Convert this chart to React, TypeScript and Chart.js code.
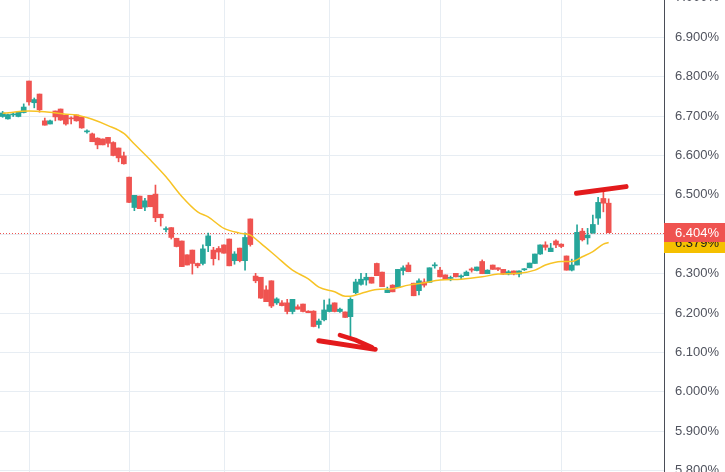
import { useEffect, useRef } from 'react';
import { Chart, registerables } from 'chart.js';

Chart.register(...registerables);

// ---- data ----
const SLOTS = 126; // 116 candles + empty space on the right
const slotLabels: string[] = Array.from({ length: SLOTS }, (_, i) => String(i));

const opens = [
  6.699, 6.693, 6.703, 6.699, 6.709, 6.789, 6.734, 6.756, 6.688, 6.680,
  6.713, 6.718, 6.702, 6.695, 6.703, 6.698, 6.660, 6.655, 6.644, 6.642,
  6.646, 6.633, 6.619, 6.599, 6.545, 6.468, 6.497, 6.469, 6.499, 6.502,
  6.451, 6.412, 6.417, 6.390, 6.383, 6.348, 6.360, 6.326, 6.326, 6.371,
  6.360, 6.364, 6.373, 6.388, 6.333, 6.365, 6.333, 6.439, 6.294, 6.291,
  6.259, 6.282, 6.226, 6.226, 6.226, 6.204, 6.216, 6.223, 6.205, 6.205,
  6.171, 6.183, 6.204, 6.226, 6.204, 6.203, 6.191, 6.252, 6.273, 6.284,
  6.291, 6.326, 6.304, 6.252, 6.271, 6.265, 6.308, 6.322, 6.276, 6.257,
  6.279, 6.278, 6.320, 6.309, 6.297, 6.288, 6.301, 6.292, 6.295, 6.312,
  6.308, 6.331, 6.300, 6.322, 6.315, 6.311, 6.299, 6.307, 6.299, 6.310,
  6.315, 6.326, 6.350, 6.373, 6.356, 6.383, 6.375, 6.345, 6.309, 6.322,
  6.408, 6.391, 6.403, 6.441, 6.491, 6.479,
];
const highs = [
  6.712, 6.705, 6.708, 6.711, 6.731, 6.789, 6.746, 6.756, 6.695, 6.690,
  6.713, 6.718, 6.702, 6.698, 6.703, 6.698, 6.665, 6.657, 6.645, 6.642,
  6.646, 6.635, 6.619, 6.609, 6.545, 6.499, 6.497, 6.491, 6.499, 6.525,
  6.451, 6.419, 6.417, 6.390, 6.383, 6.348, 6.360, 6.327, 6.373, 6.403,
  6.367, 6.369, 6.373, 6.388, 6.356, 6.365, 6.404, 6.439, 6.301, 6.291,
  6.269, 6.282, 6.239, 6.232, 6.235, 6.235, 6.221, 6.223, 6.206, 6.206,
  6.185, 6.233, 6.236, 6.226, 6.213, 6.203, 6.239, 6.286, 6.301, 6.301,
  6.291, 6.327, 6.304, 6.266, 6.272, 6.311, 6.320, 6.328, 6.276, 6.287,
  6.287, 6.315, 6.328, 6.316, 6.297, 6.294, 6.301, 6.297, 6.307, 6.315,
  6.317, 6.335, 6.310, 6.322, 6.315, 6.311, 6.308, 6.307, 6.307, 6.313,
  6.327, 6.350, 6.373, 6.381, 6.377, 6.386, 6.376, 6.345, 6.337, 6.424,
  6.415, 6.415, 6.449, 6.494, 6.507, 6.490,
];
const lows = [
  6.697, 6.692, 6.699, 6.698, 6.708, 6.728, 6.721, 6.710, 6.677, 6.680,
  6.688, 6.689, 6.677, 6.680, 6.687, 6.669, 6.657, 6.635, 6.617, 6.627,
  6.622, 6.599, 6.584, 6.578, 6.480, 6.460, 6.465, 6.460, 6.470, 6.432,
  6.421, 6.406, 6.388, 6.368, 6.318, 6.322, 6.299, 6.315, 6.322, 6.356,
  6.322, 6.335, 6.352, 6.320, 6.324, 6.330, 6.309, 6.370, 6.277, 6.237,
  6.229, 6.214, 6.222, 6.218, 6.198, 6.198, 6.210, 6.203, 6.201, 6.165,
  6.162, 6.180, 6.203, 6.203, 6.202, 6.189, 6.139, 6.249, 6.271, 6.271,
  6.276, 6.295, 6.267, 6.252, 6.254, 6.265, 6.297, 6.305, 6.244, 6.246,
  6.266, 6.278, 6.314, 6.292, 6.286, 6.282, 6.292, 6.286, 6.295, 6.304,
  6.307, 6.300, 6.300, 6.311, 6.308, 6.298, 6.297, 6.297, 6.292, 6.308,
  6.315, 6.326, 6.349, 6.360, 6.356, 6.366, 6.366, 6.309, 6.307, 6.322,
  6.383, 6.375, 6.403, 6.425, 6.457, 6.404,
];
const closes = [
  6.708, 6.704, 6.705, 6.710, 6.723, 6.736, 6.742, 6.716, 6.677, 6.688,
  6.698, 6.690, 6.680, 6.693, 6.688, 6.670, 6.661, 6.635, 6.627, 6.627,
  6.631, 6.600, 6.594, 6.579, 6.481, 6.499, 6.465, 6.485, 6.470, 6.442,
  6.442, 6.414, 6.392, 6.369, 6.318, 6.322, 6.326, 6.320, 6.363, 6.396,
  6.338, 6.355, 6.352, 6.320, 6.350, 6.333, 6.392, 6.374, 6.282, 6.238,
  6.229, 6.218, 6.236, 6.219, 6.204, 6.235, 6.210, 6.204, 6.201, 6.166,
  6.180, 6.208, 6.221, 6.204, 6.210, 6.189, 6.235, 6.279, 6.286, 6.291,
  6.276, 6.295, 6.267, 6.259, 6.254, 6.311, 6.315, 6.305, 6.244, 6.282,
  6.271, 6.315, 6.322, 6.292, 6.286, 6.289, 6.292, 6.293, 6.304, 6.309,
  6.317, 6.300, 6.309, 6.311, 6.311, 6.299, 6.305, 6.299, 6.307, 6.311,
  6.327, 6.350, 6.373, 6.367, 6.365, 6.373, 6.369, 6.309, 6.322, 6.405,
  6.386, 6.398, 6.425, 6.481, 6.479, 6.404,
];

// moving-average line: [candle index, value]
const maPoints: [number, number][] = [
  [0, 6.707], [5, 6.713], [8, 6.711], [12, 6.705], [14, 6.703], [17, 6.692],
  [20, 6.676], [23, 6.656], [25, 6.629], [28, 6.589], [31, 6.546], [34, 6.496],
  [37, 6.457], [39, 6.444], [42, 6.415], [45, 6.403], [47, 6.398], [49, 6.377],
  [52, 6.343], [55, 6.309], [58, 6.287], [60, 6.266], [63, 6.254], [65, 6.243],
  [66, 6.243], [68, 6.250], [71, 6.260], [74, 6.262], [77, 6.271], [80, 6.277],
  [83, 6.284], [87, 6.286], [91, 6.292], [94, 6.299], [98, 6.301], [101, 6.309],
  [103, 6.322], [106, 6.331], [108, 6.331], [110, 6.343], [112, 6.356],
  [114, 6.375], [115, 6.379],
];
const maLast = 6.379;
const lastClose = 6.404;

const yTicks = [5.8, 5.9, 6.0, 6.1, 6.2, 6.3, 6.4, 6.5, 6.6, 6.7, 6.8, 6.9, 7.0];
const Y_MIN = 5.7967;
const Y_MAX = 6.9947;

// candle indices where the time grid lines fall
const vGridIdx = [5, 24, 42, 62, 83, 106];

// hand-drawn marks, in data coordinates [index, value]
const markTop: [number, number][] = [[108.9, 6.504], [118.3, 6.521]];
const markLow1: [number, number][] = [[60.0, 6.130], [70.7, 6.108]];
const markLow2: [number, number][] = [[64.0, 6.144], [66.9, 6.132], [70.1, 6.113]];

// ---- styles ----
const UP = '#26a69a';
const DOWN = '#ef5350';
const GRID = '#e7edf3';
const MA_COLOR = '#f7c325';
const MA_LABEL = '#f5c000';
const MARK = '#e31a1c';
const FONT = "'Liberation Sans', Arial, sans-serif";
const AXIS_TEXT = '#50535e';

export default function App() {
  const ref = useRef<HTMLCanvasElement>(null);

  useEffect(() => {
    const colors = opens.map((o, i) => (closes[i] >= o ? UP : DOWN));
    const wicks = lows.map((l, i) => [l, highs[i]]);
    const bodies = opens.map((o, i) => [o, closes[i]]);
    const maSeries: (number | null)[] = slotLabels.map(() => null);
    maPoints.forEach(([i, v]) => { maSeries[i] = v; });

    const overlay = {
      id: 'overlay',
      beforeDatasetsDraw(chart: any) {
        const { ctx, chartArea, scales } = chart;
        const x = scales.x, y = scales.y;
        ctx.save();
        ctx.strokeStyle = GRID;
        ctx.lineWidth = 1;
        for (const i of vGridIdx) {
          const px = Math.round(x.getPixelForValue(i)) + 0.5;
          ctx.beginPath();
          ctx.moveTo(px, chartArea.top);
          ctx.lineTo(px, chartArea.bottom);
          ctx.stroke();
        }
        const py = Math.round(y.getPixelForValue(lastClose)) + 0.5;
        ctx.strokeStyle = DOWN;
        ctx.setLineDash([1, 2]);
        ctx.beginPath();
        ctx.moveTo(chartArea.left, py);
        ctx.lineTo(chartArea.right, py);
        ctx.stroke();
        ctx.restore();
      },
      afterDraw(chart: any) {
        const { ctx, chartArea, scales } = chart;
        const x = scales.x, y = scales.y;
        const W = chart.width;
        ctx.save();
        // hand-drawn marks
        ctx.strokeStyle = MARK;
        ctx.lineCap = 'round';
        ctx.lineJoin = 'round';
        const stroke = (pts: [number, number][], w: number) => {
          ctx.lineWidth = w;
          ctx.beginPath();
          pts.forEach(([i, v], k) => {
            const px = x.getPixelForValue(i);
            const py = y.getPixelForValue(v);
            if (k === 0) ctx.moveTo(px, py); else ctx.lineTo(px, py);
          });
          ctx.stroke();
        };
        stroke(markTop, 5);
        stroke(markLow1, 5);
        stroke(markLow2, 4.5);

        // price labels on the axis
        ctx.font = `13px ${FONT}`;
        ctx.textBaseline = 'middle';
        ctx.textAlign = 'left';
        const left = chartArea.right;
        const yMa = y.getPixelForValue(maLast);
        ctx.fillStyle = MA_LABEL;
        ctx.fillRect(left, Math.round(yMa - 10), W - left, 20);
        ctx.fillStyle = '#1c1c1c';
        ctx.fillText(maLast.toFixed(3) + '%', left + 11, yMa + 1);
        const yLc = y.getPixelForValue(lastClose);
        ctx.fillStyle = DOWN;
        ctx.fillRect(left, Math.round(yLc - 9.5), W - left, 19);
        ctx.fillStyle = '#ffffff';
        ctx.fillText(lastClose.toFixed(3) + '%', left + 11, yLc + 1);
        ctx.restore();
      },
    };

    const chart = new Chart(ref.current as HTMLCanvasElement, {
      type: 'bar',
      data: {
        labels: slotLabels,
        datasets: [
          {
            type: 'bar',
            data: wicks as any,
            backgroundColor: colors,
            barThickness: 1,
            grouped: false,
            order: 3,
          } as any,
          {
            type: 'bar',
            data: bodies as any,
            backgroundColor: colors,
            barThickness: 5,
            grouped: false,
            minBarLength: 1,
            order: 2,
          } as any,
          {
            type: 'line',
            data: maSeries,
            borderColor: MA_COLOR,
            borderWidth: 1.5,
            pointRadius: 0,
            spanGaps: true,
            tension: 0.4,
            cubicInterpolationMode: 'monotone',
            order: 1,
          } as any,
        ],
      },
      options: {
        responsive: false,
        animation: false,
        devicePixelRatio: 1,
        layout: { padding: 0 },
        plugins: {
          legend: { display: false },
          tooltip: { enabled: false },
        },
        scales: {
          x: {
            type: 'category',
            display: false,
            offset: true,
            grid: { display: false },
          },
          y: {
            position: 'right',
            min: Y_MIN,
            max: Y_MAX,
            afterBuildTicks: (s: any) => {
              s.ticks = yTicks.map((v) => ({ value: v }));
            },
            afterFit: (s: any) => {
              s.width = 61;
              s.paddingTop = 0;
              s.paddingBottom = 0;
            },
            grid: { color: GRID, drawTicks: false },
            border: { display: true, color: '#4a4d57', width: 1 },
            ticks: {
              padding: 11,
              color: AXIS_TEXT,
              font: { size: 13, family: FONT },
              autoSkip: false,
              callback: (v: any) => Number(v).toFixed(3) + '%',
            },
          } as any,
        },
      },
      plugins: [overlay],
    });
    return () => chart.destroy();
  }, []);

  return (
    <div style={{ position: 'fixed', left: 0, top: 0, width: 725, height: 472, background: '#ffffff' }}>
      <canvas ref={ref} width={725} height={472} style={{ display: 'block', width: 725, height: 472 }} />
    </div>
  );
}
